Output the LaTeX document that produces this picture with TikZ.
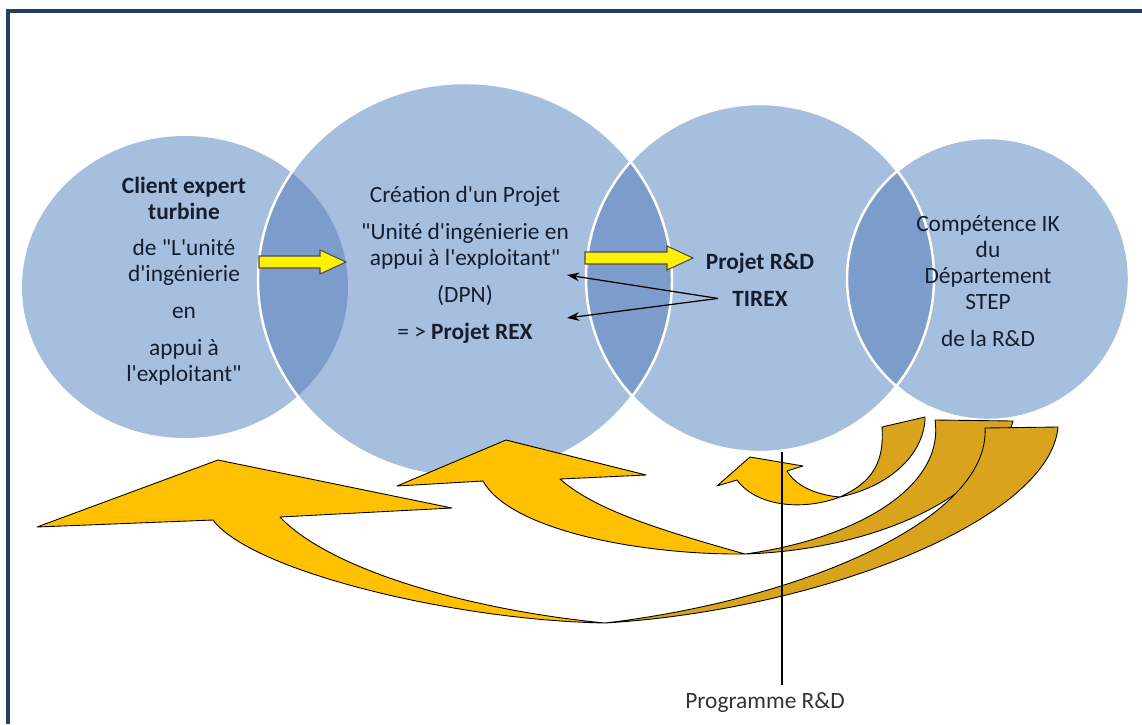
\documentclass[tikz,border=0pt]{standalone}
\usepackage{fontspec}
\setmainfont{Carlito}[Ligatures=TeXOff]
\usetikzlibrary{arrows.meta}
\definecolor{framec}{HTML}{243F60}
\definecolor{bubble}{HTML}{A7BFDE}
\definecolor{bubbledark}{HTML}{7C9DCB}
\definecolor{goldfront}{HTML}{FFC000}
\definecolor{goldback}{HTML}{D9A41C}
\definecolor{inktext}{HTML}{151E2E}
\def\yarrow(#1,#2)(#3){\draw[yarrow] (#1,#2-6) -- (#3-26,#2-6) -- (#3-26,#2-12) -- (#3,#2) -- (#3-26,#2+12) -- (#3-26,#2+6) -- (#1,#2+6) -- cycle;}

\begin{document}
\begin{tikzpicture}[x=0.02cm,y=-0.02cm,
		bubbletxt/.style={font=\fontsize{13.3}{14.75}\selectfont, text=inktext, align=center, anchor=base, inner sep=0pt},
		rim/.style={draw=white, line width=1.4pt},
		yarrow/.style={fill=yellow, draw=black!70, line width=0.6pt},
		frontband/.style={fill=goldfront, draw=black, line width=0.5pt, line join=round},
		backband/.style={fill=goldback, draw=black, line width=0.5pt, line join=round},
		tirexarrow/.style={draw=black, line width=0.7pt, -{Stealth[length=7pt,width=5pt]}},
		progline/.style={draw=black, line width=1.2pt}]
		\useasboundingbox (0,0) rectangle (1142,724);
		%%%%% FRAME %%%%%
		\draw[framec, line width=2.3pt] (8,724) -- (8,11) -- (1142,11);
		
		%%%%% CIRCLES %%%%%
		\fill[bubble] (185,287) ellipse (163 and 151);
		\fill[bubble] (465,280) ellipse (207 and 197);
		\fill[bubble] (760,278) circle (174);
		\fill[bubble] (988,279) circle (141);
		
		\begin{scope}
			\clip (185,287) ellipse (163 and 151);
			\fill[bubbledark] (465,280) ellipse (207 and 197);
		\end{scope}
		\begin{scope}
			\clip (465,280) ellipse (207 and 197);
			\fill[bubbledark] (760,278) circle (174);
		\end{scope}
		\begin{scope}
			\clip (760,278) circle (174);
			\fill[bubbledark] (988,279) circle (141);
		\end{scope}
		
		\draw[rim] (465,280) ellipse (207 and 197);
		\draw[rim] (760,278) circle (174);
		\draw[rim] (988,279) circle (141);
		
		%%%%% TEXTS %%%%%
		\node[bubbletxt] (client) at (184,381) {\textbf{Client expert}\\\textbf{turbine}\\[6.2pt]de "L'unité\\d'ingénierie\\[6pt]en\\[6.2pt]appui à\\l'exploitant"};
		\node[bubbletxt] (creation) at (465,339) {Création d'un Projet\\[6.2pt]"Unité d'ingénierie en\\appui à l'exploitant"\\[6.2pt](DPN)\\[6.2pt]= > \textbf{Projet REX}};
		\node[bubbletxt] (projet) at (760,269) {\textbf{Projet R\&D}};
		\node[bubbletxt] (tirex) at (760,306) {\textbf{TIREX}};
		\node[bubbletxt] (competence) at (988,346) {Compétence IK\\du\\Département\\STEP\\[6.2pt]de la R\&D};
		\node[bubbletxt, text=black!80, inner sep=4pt] (programme) at (765,708) {Programme R\&D};
		
		%%%%% YELLOW ARROWS %%%%%
		\yarrow(259,262)(346)
		\yarrow(585,258)(693)
		
		\coordinate (tirexfork) at ([xshift=-8pt]tirex.west);
		\coordinate (rexup) at (567,275);
		\coordinate (rexdown) at (567,318);
		\draw[tirexarrow] (tirexfork) -- (rexup);
		\draw[tirexarrow] (tirexfork) -- (rexdown);
		
		%%%%% GOLD ARROWS %%%%%
		% small
		\draw[backband] (840,497) .. controls (895,485) and (925,450) .. (925,417) -- (882,427) .. controls (885,470) and (865,485) .. (840,497) -- cycle;
		\draw[frontband] (750,457) -- (803,466) -- (787,471) .. controls (795,485) and (815,495) .. (840,497) .. controls (800,512) and (755,505) .. (737,480) -- (717,486) -- cycle;
		% medium
		\draw[backband] (745,554) .. controls (870,550) and (990,500) .. (1013,421) -- (935,420) .. controls (945,490) and (850,540) .. (745,554) -- cycle;
		\draw[frontband] (506,440) -- (646,475) -- (560,479) .. controls (595,510) and (660,530) .. (745,554) .. controls (640,555) and (510,530) .. (483,481) -- (397,486) -- cycle;
		% large
		\draw[backband] (605,623) .. controls (820,610) and (1050,520) .. (1058,427) -- (985,428) .. controls (990,520) and (800,600) .. (605,623) -- cycle;
		\draw[frontband] (218,460) -- (452,508) -- (280,517) .. controls (330,570) and (470,610) .. (605,623) .. controls (450,620) and (250,570) .. (213,520) -- (37,527) -- cycle;
		
		%%%%% PROGRAMME LINE %%%%%
		\coordinate (c3foot) at (782,452);
		\draw[progline] (c3foot) -- (c3foot |- programme.north);
	\end{tikzpicture}
\end{document}
